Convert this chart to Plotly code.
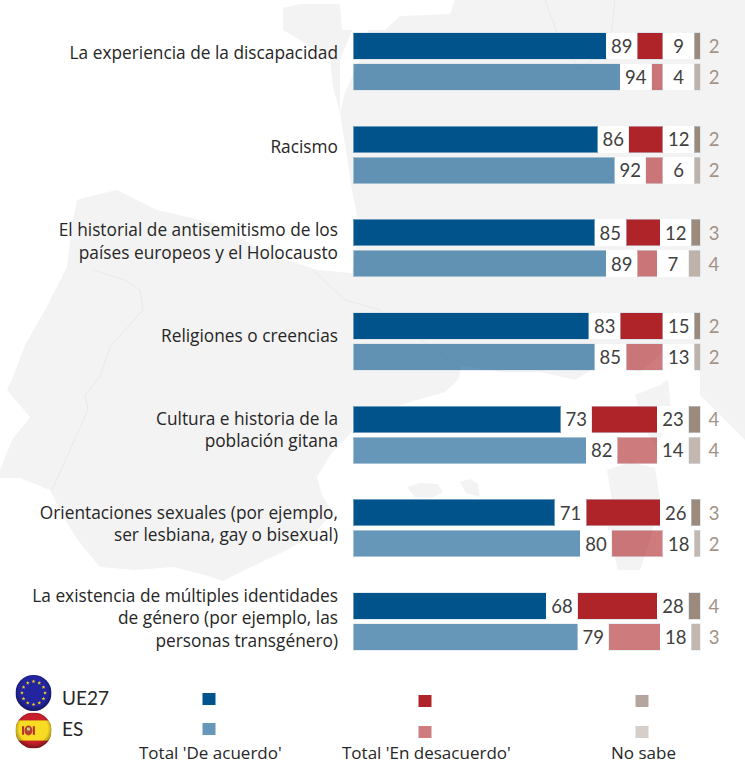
import base64, math
import plotly.graph_objects as go

# ---------- data ----------
categories = [
    "La experiencia de la discapacidad",
    "Racismo",
    "El historial de antisemitismo de los<br>países europeos y el Holocausto",
    "Religiones o creencias",
    "Cultura e historia de la<br>población gitana",
    "Orientaciones sexuales (por ejemplo,<br>ser lesbiana, gay o bisexual)",
    "La existencia de múltiples identidades<br>de género (por ejemplo, las<br>personas transgénero)",
]
eu_agree = [89, 86, 85, 83, 73, 71, 68]
eu_disagree = [9, 12, 12, 15, 23, 26, 28]
eu_dk = [2, 2, 3, 2, 4, 3, 4]
es_agree = [94, 92, 89, 85, 82, 80, 79]
es_disagree = [4, 6, 7, 13, 14, 18, 18]
es_dk = [2, 2, 4, 2, 4, 2, 3]

# ---------- geometry ----------
W, H = 745, 765
FONT = "Lato"
TEXT_FONT = "Open Sans"
X0 = 353
PX_PER_UNIT = 2.843
ROW_PX = 93.33
ROW0_PX = 46
ES_OFFSET = 31 / ROW_PX
BAR_H = 26.5 / ROW_PX
GAP = 31.35 / PX_PER_UNIT
TAIL = 28 / PX_PER_UNIT
LABEL_PX = [53 + 94.2 * i for i in range(7)]


def px(x):
    return x / W


def py(y):
    return 1 - y / H


BLUE, RED, BROWN = "#01538B", "#AF2429", "#9C8A7C"
TXT = "#404040"
TXT_DK = "#A39285"
EDGE = "rgba(200,215,230,0.55)"

fig = go.Figure()
rows = list(range(7))


def add_series(name, y, agree, disagree, dk, alpha):
    def bar(vals, color, label=None, font_color=TXT, edge=True, op=alpha):
        fig.add_trace(go.Bar(
            name=name, y=y, x=vals, orientation="h", width=BAR_H, showlegend=False,
            marker=dict(color=color, opacity=op,
                        line=dict(color=EDGE if edge else "rgba(0,0,0,0)", width=1 if edge else 0)),
            text=label, textposition="inside" if label is not None else "none",
            insidetextanchor="middle", textangle=0, constraintext="none",
            textfont=dict(family=FONT, size=18.5, color=font_color),
            hoverinfo="skip"))
    bar(agree, BLUE)
    bar([GAP] * 7, "#FFFFFF", [str(v) for v in agree], edge=False, op=1)
    bar(disagree, RED)
    bar([GAP] * 7, "#FFFFFF", [str(v) for v in disagree], edge=False, op=1)
    bar(dk, BROWN)
    bar([TAIL] * 7, "rgba(0,0,0,0)", [str(v) for v in dk], font_color=TXT_DK, edge=False, op=1)


add_series("UE27", rows, eu_agree, eu_disagree, eu_dk, 1)
add_series("ES", [r + ES_OFFSET for r in rows], es_agree, es_disagree, es_dk, 0.6)

# ---------- background map (decoration, pixel coords on paper) ----------
LAND = "#F3F3F3"
BORDER = "#E9E9E9"


def poly(points, close=True):
    s = "M " + " L ".join(f"{px(x):.5f},{py(y):.5f}" for x, y in points)
    return s + (" Z" if close else "")


main_land = [
    (0, 478), (20, 478), (50, 490), (65, 520), (80, 543), (100, 567), (135, 570), (173, 567), (205, 575),
    (223, 581), (245, 570), (287, 550), (312, 535), (333, 513), (322, 495), (317, 477), (330, 455), (360, 423),
    (385, 410), (417, 400), (445, 392), (458, 380), (462, 366), (500, 372), (540, 372), (575, 380), (600, 365),
    (640, 372), (665, 350), (700, 372), (700, 395), (725, 420), (745, 440),
    (745, 0), (455, 0), (450, 14), (400, 16), (385, 30), (368, 30), (360, 60), (345, 92), (340, 113),
    (347, 157), (351, 185), (358, 220), (356, 250), (352, 273),
    (317, 270), (267, 253), (213, 223), (157, 210), (117, 190), (95, 195), (77, 200), (72, 225), (67, 267),
    (45, 310), (25, 345), (13, 377), (7, 390), (30, 417), (12, 440), (0, 470),
]
brittany = [(283, 8), (300, 4), (340, 4), (342, 30), (352, 30), (340, 60), (340, 113), (333, 87), (330, 60), (300, 40), (283, 30)]
islands = [
    [(407, 487), (420, 483), (438, 484), (443, 492), (432, 498), (415, 497)],
    [(460, 482), (470, 479), (478, 484), (480, 497), (466, 493)],
    [(607, 470), (630, 462), (655, 468), (660, 500), (650, 540), (640, 570), (618, 570), (608, 530), (612, 500)],
    [(635, 395), (660, 385), (668, 380), (672, 420), (655, 445), (645, 430)],
]
borders = [
    [(93, 270), (125, 280), (140, 290), (143, 310), (110, 347), (100, 377), (85, 395), (88, 410), (52, 490)],
    [(313, 270), (345, 300), (380, 310), (455, 365)],
    [(545, 0), (560, 40), (580, 70), (610, 45), (615, 0)],
]

shapes = [dict(type="path", xref="paper", yref="paper", path=poly(main_land), fillcolor=LAND,
               line=dict(width=0), layer="below")]
shapes.append(dict(type="path", xref="paper", yref="paper", path=poly(brittany), fillcolor=LAND,
                   line=dict(width=0), layer="below"))
for isl in islands:
    shapes.append(dict(type="path", xref="paper", yref="paper", path=poly(isl), fillcolor=LAND,
                       line=dict(width=0), layer="below"))
for b in borders:
    shapes.append(dict(type="path", xref="paper", yref="paper", path=poly(b, close=False),
                       line=dict(width=1, color=BORDER), layer="below"))

# ---------- legend key squares ----------
key_x = [209, 425, 642]
key_y = [[699, 729], [701, 732], [701, 732]]
key_col = [["#01538B", "#6798B9"], ["#AF2429", "#CF7C7F"], ["#B5A69D", "#D5CEC9"]]
for kx, kys, cols in zip(key_x, key_y, key_col):
    for ky, c in zip(kys, cols):
        shapes.append(dict(type="rect", xref="paper", yref="paper",
                           x0=px(kx - 6.5), x1=px(kx + 6.5), y0=py(ky - 6), y1=py(ky + 6),
                           fillcolor=c, line=dict(width=0), layer="above"))

# ---------- flags ----------


def star(cx, cy, r):
    pts = []
    for k in range(10):
        rr = r if k % 2 == 0 else r * 0.42
        a = -math.pi / 2 + k * math.pi / 5
        pts.append(f"{cx + rr * math.cos(a):.2f},{cy + rr * math.sin(a):.2f}")
    return f'<polygon points="{" ".join(pts)}" fill="#F2D21E"/>'


GLOSS = ('<radialGradient id="g" cx="50%" cy="45%" r="55%"><stop offset="0" stop-color="#000" stop-opacity="0"/>'
         '<stop offset="0.72" stop-color="#000" stop-opacity="0"/><stop offset="1" stop-color="#000" stop-opacity="0.4"/>'
         '</radialGradient>')
eu_stars = "".join(star(50 + 32 * math.sin(k * math.pi / 6), 50 - 32 * math.cos(k * math.pi / 6), 5.5) for k in range(12))
eu_svg = (f'<svg xmlns="http://www.w3.org/2000/svg" viewBox="0 0 100 100"><defs>{GLOSS}</defs>'
          f'<circle cx="50" cy="50" r="50" fill="#23259E"/>{eu_stars}<circle cx="50" cy="50" r="50" fill="url(#g)"/></svg>')
es_svg = (f'<svg xmlns="http://www.w3.org/2000/svg" viewBox="0 0 100 100"><defs>{GLOSS}'
          '<clipPath id="c"><circle cx="50" cy="50" r="50"/></clipPath></defs>'
          '<g clip-path="url(#c)"><rect width="100" height="100" fill="#C8202A"/>'
          '<rect y="22" width="100" height="56" fill="#F8DC24"/>'
          '<rect x="18" y="38" width="6" height="24" fill="#B5382A"/><ellipse cx="36" cy="50" rx="11" ry="14" fill="#B8402E"/>'
          '<rect x="32" y="42" width="8" height="8" fill="#D9C9A0"/>'
          '<rect x="48" y="38" width="6" height="24" fill="#B5382A"/></g>'
          '<circle cx="50" cy="50" r="50" fill="url(#g)"/></svg>')


def data_uri(svg):
    return "data:image/svg+xml;base64," + base64.b64encode(svg.encode()).decode()


images = [
    dict(source=data_uri(eu_svg), xref="paper", yref="paper", x=px(15.5), y=py(675), sizex=36 / W, sizey=36 / H,
         xanchor="left", yanchor="top", layer="above", sizing="stretch"),
    dict(source=data_uri(es_svg), xref="paper", yref="paper", x=px(15.5), y=py(712.5), sizex=36 / W, sizey=36 / H,
         xanchor="left", yanchor="top", layer="above", sizing="stretch"),
]

# ---------- free text ----------
head_texts = [("UE27", 60, 697), ("ES", 60, 728)]
foot_texts = [("Total 'De acuerdo'", 210), ("Total 'En desacuerdo'", 426), ("No sabe", 643)]
annotations = [dict(text=t, x=px(x), y=py(y), xref="paper", yref="paper", xanchor="left", yanchor="middle",
                    showarrow=False, font=dict(family=FONT, size=19, color="#262626"))
               for t, x, y in head_texts]
annotations += [dict(text=t, x=px(x), y=0, xref="paper", yref="paper", xanchor="center", yanchor="bottom",
                     borderpad=0, showarrow=False, font=dict(family=TEXT_FONT, size=17, color="#262626"))
                for t, x in foot_texts]

fig.update_layout(
    width=W, height=H, margin=dict(l=0, r=0, t=0, b=0), barmode="stack",
    paper_bgcolor="white", plot_bgcolor="rgba(0,0,0,0)", showlegend=False,
    shapes=shapes, images=images, annotations=annotations,
    xaxis=dict(domain=[px(X0), 1], range=[0, (W - X0) / PX_PER_UNIT], visible=False, fixedrange=True),
    yaxis=dict(domain=[0, 1], range=[(H - ROW0_PX) / ROW_PX, -ROW0_PX / ROW_PX], showgrid=False, zeroline=False,
               showline=False, ticks="", tickmode="array",
               tickvals=[(p - ROW0_PX) / ROW_PX for p in LABEL_PX], ticktext=categories,
               ticklabelstandoff=14, tickfont=dict(family=TEXT_FONT, size=17.3, color="#262626"), fixedrange=True),
)
fig.write_html("out.html", config={"displayModeBar": False}, post_script="document.body.style.margin='0';")
